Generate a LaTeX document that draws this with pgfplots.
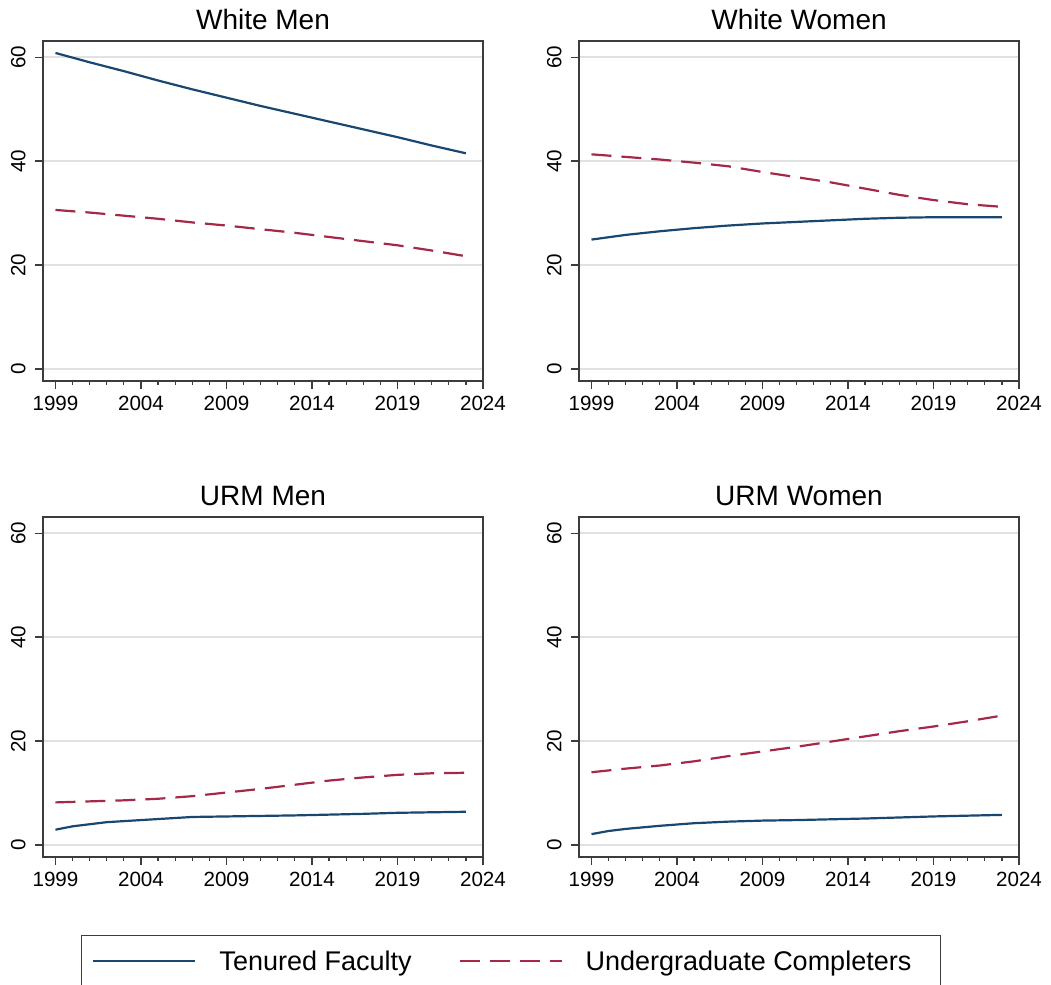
\documentclass[border=0pt]{standalone}
\usepackage{pgfplots}
\pgfplotsset{compat=1.18}
\usepackage{fontspec}
\setmainfont{Liberation Sans}
\definecolor{tfblue}{RGB}{26,71,111}
\definecolor{ugred}{RGB}{165,40,72}
\definecolor{gridc}{RGB}{225,225,225}
\definecolor{framec}{RGB}{60,60,60}
\pgfplotsset{
  panel/.style={
    scale only axis, width=220pt, height=170pt, anchor=south west,
    xmin=1998.27, xmax=2024, ymin=-2.3, ymax=63.1,
    xtick={1999,2004,2009,2014,2019,2024}, minor x tick num=4,
    ytick={0,20,40,60}, ymajorgrids, grid style={gridc, line width=1pt},
    tick align=outside, major tick length=4pt, minor tick length=2pt,
    xtick pos=bottom, ytick pos=left,
    axis line style={framec, line width=0.8pt},
    every tick/.style={framec, line width=0.6pt},
    tick label style={font=\fontsize{10.3}{12}\selectfont},
    /pgf/number format/assume math mode=true,
    /pgf/number format/1000 sep={},
    yticklabel style={rotate=90, anchor=south, inner sep=4.5pt},
    title style={at={(0.5,1)}, anchor=base, yshift=-0.5pt, font=\fontsize{14}{16}\selectfont},
    legend image code/.code={\draw[##1] (0pt,0pt) -- (51pt,0pt);},
  },
  tf/.style={tfblue, line width=1.1pt, no marks},
  ug/.style={ugred, line width=1.1pt, no marks, dash pattern=on 10pt off 5pt},
}
\begin{document}
\begin{tikzpicture}
\useasboundingbox (0,0) rectangle (525.5pt,492.5pt);
% White Men
\begin{axis}[panel, at={(21.5pt,302pt)}, title={White Men}]
\addplot[tf] coordinates {(1999,60.8) (2001,59.0) (2003,57.3) (2005,55.5) (2007,53.8) (2009,52.2) (2011,50.6) (2013,49.1) (2015,47.6) (2017,46.1) (2019,44.6) (2021,43.0) (2023,41.5)};
\addplot[ug] coordinates {(1999,30.6) (2001,30.1) (2003,29.5) (2005,28.9) (2007,28.2) (2009,27.6) (2011,26.9) (2013,26.2) (2015,25.4) (2017,24.6) (2019,23.8) (2021,22.8) (2023,21.7)};
\end{axis}
% White Women
\begin{axis}[panel, at={(289.5pt,302pt)}, title={White Women}]
\addplot[tf] coordinates {(1999,24.9) (2001,25.8) (2003,26.5) (2005,27.1) (2007,27.6) (2009,28.0) (2011,28.3) (2013,28.6) (2015,28.9) (2017,29.1) (2019,29.2) (2021,29.2) (2023,29.2)};
\addplot[ug] coordinates {(1999,41.3) (2001,40.8) (2003,40.3) (2005,39.7) (2007,39.0) (2009,37.9) (2011,36.9) (2013,35.9) (2015,34.7) (2017,33.5) (2019,32.5) (2021,31.7) (2023,31.2)};
\end{axis}
% URM Men
\begin{axis}[panel, at={(21.5pt,64pt)}, title={URM Men},
  legend columns=2,
  legend style={at={(1.0636,-0.2294)}, anchor=north, draw=framec, line width=0.7pt,
    inner xsep=5.5pt, inner ysep=5.3pt, column sep=0pt,
    font=\fontsize{13.5}{16}\selectfont,
    nodes={inner sep=0pt, text height=12pt, text depth=2.4pt},
    cells={anchor=center}}]
\addplot[tf] coordinates {(1999,2.95) (2000,3.6) (2001,4.0) (2002,4.4) (2003,4.6) (2005,5.0) (2007,5.4) (2009,5.5) (2011,5.6) (2013,5.7) (2015,5.85) (2017,6.0) (2019,6.2) (2021,6.3) (2023,6.4)};
\addlegendentry{\hspace*{11.5pt}\makebox[119.5pt][l]{Tenured Faculty}}
\addplot[ug] coordinates {(1999,8.2) (2001,8.4) (2003,8.6) (2005,8.9) (2007,9.4) (2009,10.1) (2011,10.8) (2013,11.6) (2015,12.4) (2017,13.0) (2019,13.5) (2021,13.8) (2023,13.9)};
\addlegendentry{\hspace*{11.5pt}\makebox[172pt][l]{Undergraduate Completers}}
\end{axis}
% URM Women
\begin{axis}[panel, at={(289.5pt,64pt)}, title={URM Women}]
\addplot[tf] coordinates {(1999,2.1) (2000,2.7) (2001,3.1) (2002,3.4) (2003,3.7) (2005,4.2) (2007,4.5) (2009,4.7) (2011,4.8) (2013,4.95) (2015,5.1) (2017,5.3) (2019,5.5) (2021,5.65) (2023,5.8)};
\addplot[ug] coordinates {(1999,14.0) (2001,14.7) (2003,15.3) (2005,16.1) (2007,17.1) (2009,18.0) (2011,18.9) (2013,19.9) (2015,20.9) (2017,21.9) (2019,22.8) (2021,23.8) (2023,24.9)};
\end{axis}
\end{tikzpicture}
\end{document}
